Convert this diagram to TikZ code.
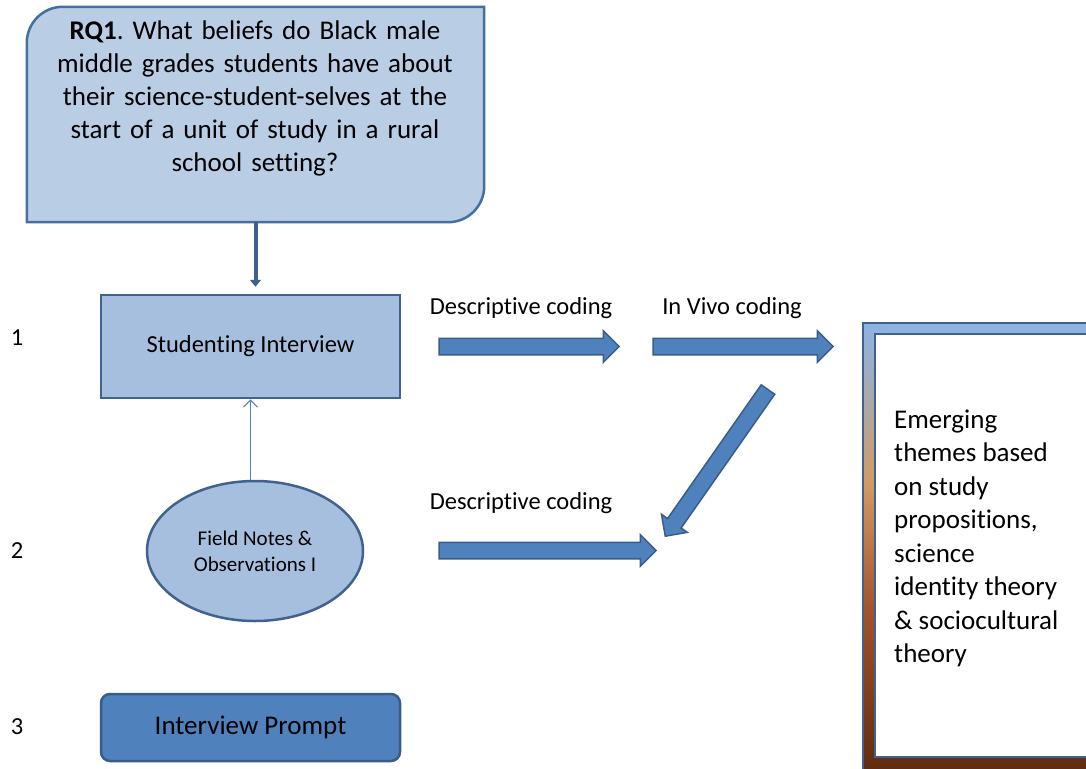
\documentclass[tikz,border=0pt]{standalone}
\usepackage{fontspec}
\setmainfont{Carlito}[Ligatures=NoCommon]
\usetikzlibrary{positioning,shapes.geometric,shapes.arrows,arrows.meta}

\definecolor{qfill}{HTML}{B9CDE5}
\definecolor{qline}{HTML}{4470A0}
\definecolor{boxfill}{HTML}{A7BFDE}
\definecolor{boxline}{HTML}{41628F}
\definecolor{accent}{HTML}{4F81BD}
\definecolor{accentline}{HTML}{385D8A}
\definecolor{downline}{HTML}{3C6090}
\definecolor{framesky}{HTML}{8DB3E2}
\definecolor{framegrey}{HTML}{A9A9AB}
\definecolor{frametan}{HTML}{D39A62}
\definecolor{framerust}{HTML}{A3522A}
\definecolor{framebark}{HTML}{7B3A18}
\definecolor{framebrown}{HTML}{5A2A10}

\pgfdeclareverticalshading{themeframe}{100bp}{color(0bp)=(framebrown); color(25bp)=(framebrown); color(32.5bp)=(framebark); color(43.5bp)=(framerust); color(57.5bp)=(frametan); color(66.5bp)=(framegrey); color(75bp)=(framesky); color(100bp)=(framesky)}

\tikzset{
  qbox/.style={minimum width=457pt, minimum height=215pt, inner sep=0pt},
  qshape/.style={draw=qline, line width=2.5pt, fill=qfill},
  qtext/.style={text width=450pt, align=center, font=\fontsize{27}{33}\selectfont},
  qarrow/.style={draw=downline, line width=4pt, -{Triangle[length=7pt,width=11pt]}, shorten >=7pt},
  stage/.style={draw=boxline, line width=2.5pt, fill=boxfill, minimum width=299pt, minimum height=103pt, font=\fontsize{24.5}{29}\selectfont},
  notes/.style={ellipse, draw=boxline, line width=2.5pt, fill=boxfill, minimum width=216pt, minimum height=140pt, align=center, font=\fontsize{21}{26}\selectfont},
  prompt/.style={draw=accentline, line width=2.5pt, fill=accent, rounded corners=9pt, minimum width=299pt, minimum height=67pt, font=\fontsize{27}{33}\selectfont},
  thinarrow/.style={draw=accent, line width=1.2pt, -{Straight Barb[length=7pt,width=14pt]}},
  codearrow/.style={single arrow, draw=accentline, line width=1.5pt, fill=accent, inner sep=7.5pt, minimum width=31pt, single arrow head extend=7.5pt},
  codelabel/.style={font=\fontsize{24.5}{29}\selectfont},
  rownum/.style={font=\fontsize{24.5}{29}\selectfont},
  frame/.style={draw=boxline, line width=1.5pt, shading=themeframe, minimum width=234pt, minimum height=457pt},
  themebox/.style={draw=boxline, line width=2pt, fill=white, minimum width=222pt, minimum height=423pt},
  themetext/.style={align=left, inner sep=0pt, font=\fontsize{27}{33.5}\selectfont}
}

\begin{document}
\frenchspacing
\begin{tikzpicture}[x=1pt, y=-1pt]
  \useasboundingbox (0,0) rectangle (1086,768);
  \clip (0,0) rectangle (1086,768);

  % row numbers
  \node[rownum] (n1) at (17,338) {1};
  \node[rownum] (n2) at (17,551) {2};
  \node[rownum] (n3) at (17,727) {3};

  % research question
  \node[qbox] (rq) at (255.5,114.5) {};
  \filldraw[qshape] (rq.west) [rounded corners=36pt] |- (rq.north) [sharp corners] -| (rq.east)
    [rounded corners=36pt] |- (rq.south) [sharp corners] -| (rq.west) -- cycle;
  \node[qtext] (rqtext) at (255,98) {\textbf{RQ1}. What beliefs do Black male\\ middle grades students have about\\ their science-student-selves at the\\ start of a unit of study in a rural\\ school setting?};

  % data sources
  \node[stage] (interview) at (250.5,346.5) {Studenting Interview};
  \node[notes] (fieldnotes) at (255,551) {Field Notes \&\\ Observations I};
  \node[prompt] (prompt) at (250.5,727.5) {Interview Prompt};

  \draw[qarrow] (rq.south) -- (rq.south |- interview.north);
  \draw[thinarrow] (interview.south |- fieldnotes.north) -- (interview.south);

  % coding steps
  \node[codearrow, minimum height=180pt] (code1) at (525,346.5) {};
  \node[codearrow, minimum height=180pt] (code2) at (739,346.5) {};
  \node[codearrow, minimum height=179pt, rotate=235] (code3) at (719,459.5) {};
  \node[codearrow, minimum height=217pt] (code4) at (543.5,550.5) {};
  \node[codelabel] (lab1) at (521,308) {Descriptive coding};
  \node[codelabel] (lab2) at (732,308) {In Vivo coding};
  \node[codelabel] (lab3) at (521,503) {Descriptive coding};

  % emerging themes
  \node[frame] (outer) at (980,551.5) {};
  \node[themebox] (themes) at (986,545.5) {};
  \node[themetext, anchor=west] (themetext) at ([xshift=20pt,yshift=7pt]themes.west) {Emerging\\ themes based\\ on study\\ propositions,\\ science\\ identity theory\\ \& sociocultural\\ theory};
\end{tikzpicture}
\end{document}
